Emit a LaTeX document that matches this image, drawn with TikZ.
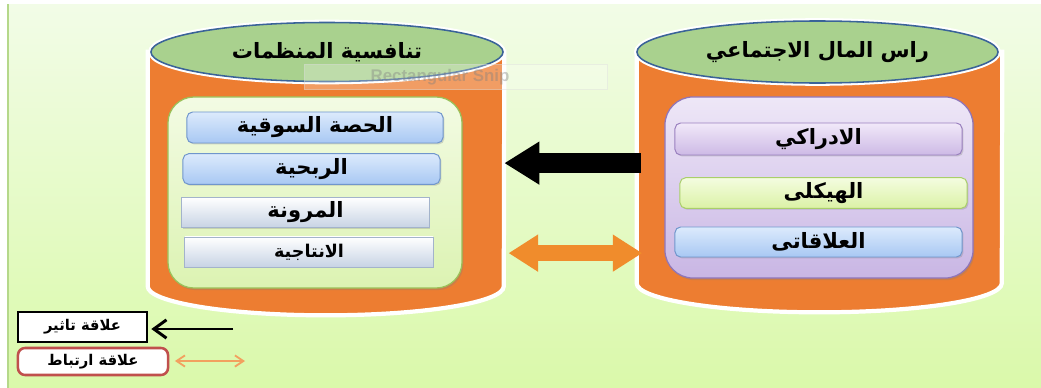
\documentclass[tikz,border=0pt]{standalone}
\usepackage{fontspec}
\newfontfamily\arabicfont[Script=Arabic]{DejaVu Sans}
\newfontfamily\snipfont{Liberation Sans}
\TeXXeTstate=1
\usetikzlibrary{arrows.meta,shapes.geometric,shadows}

\definecolor{bgtop}{HTML}{F2FCE7}
\definecolor{bgbot}{HTML}{DAF9AA}
\definecolor{bgline}{HTML}{B5D88A}
\definecolor{cylor}{HTML}{ED7D31}
\definecolor{cylshadow}{HTML}{C4A27A}
\definecolor{lidfill}{HTML}{A9D18E}
\definecolor{lidline}{HTML}{3A6398}
\definecolor{orgtop}{HTML}{F3FBE4}
\definecolor{orgbot}{HTML}{DCF3B2}
\definecolor{orgline}{HTML}{9BC15A}
\definecolor{captop}{HTML}{EEE7F7}
\definecolor{capbot}{HTML}{C9B6E4}
\definecolor{capline}{HTML}{8F75B9}
\definecolor{bluetop}{HTML}{DCEAFC}
\definecolor{bluebot}{HTML}{A8C8F3}
\definecolor{blueline}{HTML}{7096CC}
\definecolor{graybot}{HTML}{C7D3E4}
\definecolor{grayline}{HTML}{A3B3CB}
\definecolor{purtop}{HTML}{F1E9F9}
\definecolor{purbot}{HTML}{CDB9E5}
\definecolor{purline}{HTML}{9A80BF}
\definecolor{grntop}{HTML}{F4FCE0}
\definecolor{grnbot}{HTML}{DBF2A6}
\definecolor{grnline}{HTML}{A9CF69}
\definecolor{arrowor}{HTML}{F08C2C}
\definecolor{legred}{HTML}{C0504D}
\definecolor{legor}{HTML}{F2A15F}

\newcommand{\rtl}[1]{\beginR #1\endR}

\begin{document}
\begin{tikzpicture}[x=0.025cm, y=-0.025cm,
 cyl/.style={rectangle, draw=none, inner sep=0pt},
 lid/.style={ellipse, draw=lidline, line width=1.1pt, fill=lidfill, preaction={draw=white, line width=4pt}, inner sep=0pt, font=\arabicfont\bfseries\fontsize{15}{17}\selectfont},
 panel/.style={rectangle, rounded corners=0.65cm, line width=0.9pt, drop shadow={opacity=0.3, shadow xshift=1pt, shadow yshift=-1.5pt}},
 item/.style={rectangle, rounded corners=4pt, line width=0.7pt, minimum width=6.4cm, minimum height=0.75cm, font=\arabicfont\bfseries\fontsize{15}{17}\selectfont, drop shadow={opacity=0.3, shadow xshift=1pt, shadow yshift=-1pt}},
 flat/.style={item, rounded corners=0pt, draw=grayline, top color=white, bottom color=graybot},
 bigarr/.style={-{Triangle[length=25pt,width=29pt]}, line width=14pt, black},
 linkarr/.style={{Triangle[length=21pt,width=25pt]}-{Triangle[length=21pt,width=25pt]}, line width=11pt, arrowor},
 legbox/.style={rectangle, fill=white, inner sep=0pt, font=\arabicfont\bfseries\fontsize{10.5}{12}\selectfont},
]
\useasboundingbox (0,0) rectangle (1041,388);
\fill[white] (0,0) rectangle (1041,388);
\shade[top color=bgtop, bottom color=bgbot] (8,4) rectangle (1041,388);
\draw[bgline, line width=1.2pt] (8,4) -- (8,388);

% cylinders
\node[cyl, minimum width=8.9cm, minimum height=5.85cm] (orgcyl) at (326,169) {};
\node[cyl, minimum width=9.125cm, minimum height=5.775cm] (capcyl) at (819.5,167.5) {};
\foreach \c/\rx in {orgcyl/4.45cm, capcyl/4.5625cm} {
  \fill[cylshadow, xshift=1.5pt, yshift=-2pt] (\c.north west) -- (\c.south west) arc[start angle=180, end angle=360, x radius=\rx, y radius=0.725cm] -- (\c.north east) -- cycle;
  \draw[white, line width=3pt, fill=cylor] (\c.north west) -- (\c.south west) arc[start angle=180, end angle=360, x radius=\rx, y radius=0.725cm] -- (\c.north east) -- cycle;
}
\node[lid, minimum width=8.8cm, minimum height=1.475cm] (orgtitle) at (327,52) {\rtl{تنافسية المنظمات}};
\node[lid, minimum width=9.025cm, minimum height=1.55cm] (captitle) at (817.5,52) {\rtl{راس المال الاجتماعي}};

\node[rectangle, fill=white, fill opacity=0.25, draw=gray!30, draw opacity=0.4, minimum width=7.575cm, minimum height=0.5cm, text=gray, text opacity=0.4, font=\snipfont\bfseries\fontsize{12}{14}\selectfont] (snip) at (456,77) {Rectangular Snip\hspace*{0.8cm}\mbox{}};

% inner panels
\node[panel, draw=orgline, top color=orgtop, bottom color=orgbot, minimum width=7.35cm, minimum height=4.775cm] (orgpanel) at (315,192.5) {};
\node[panel, draw=capline, top color=captop, bottom color=capbot, rounded corners=0.7cm, minimum width=7.7cm, minimum height=4.525cm] (cappanel) at (819,187.5) {};

\node[item, draw=blueline, top color=bluetop, bottom color=bluebot, minimum height=0.775cm] (s1) at (315,127.5) {\rtl{الحصة السوقية}};
\node[item, draw=blueline, top color=bluetop, bottom color=bluebot, minimum width=6.425cm, minimum height=0.7cm] (s2) at (311.5,169) {\rtl{الربحية}};
\node[flat, minimum width=6.175cm, minimum height=0.725cm] (s3) at (305.5,212.5) {\rtl{المرونة}};
\node[flat, minimum width=6.2cm, font=\arabicfont\bfseries\fontsize{12.5}{14}\selectfont] (s4) at (309,252) {\rtl{الانتاجية}};

\node[item, draw=purline, top color=purtop, bottom color=purbot, minimum width=7.175cm, minimum height=0.8cm] (r1) at (818.5,139) {\rtl{الادراكي}};
\node[item, draw=grnline, top color=grntop, bottom color=grnbot, minimum width=7.175cm] (r2) at (823.5,193) {\rtl{الهيكلى}};
\node[item, draw=blueline, top color=bluetop, bottom color=bluebot, minimum width=7.175cm] (r3) at (818.5,242) {\rtl{العلاقاتى}};

% relations
\draw[bigarr] ([xshift=3pt, yshift=0.11cm]capcyl.west) -- ([yshift=0.11cm]capcyl.west -| orgcyl.east);
\draw[linkarr] ([xshift=4pt, yshift=-2.14cm]capcyl.west) -- ([xshift=3pt, yshift=-2.14cm]capcyl.west -| orgcyl.east);

% legend
\node[legbox, draw=black, line width=2.1pt, minimum width=3.225cm, minimum height=0.75cm] (effect) at (82.5,327) {\rtl{علاقة تاثير}};
\node[legbox, draw=legred, line width=1.8pt, rounded corners=5pt, minimum width=3.75cm, minimum height=0.675cm] (link) at (93,361.5) {\rtl{علاقة ارتباط}};
\coordinate (effectend) at (233,329);
\coordinate (linkend) at (245,361);
\draw[line width=2.1pt, -{Straight Barb[length=9pt,width=13pt]}] (effectend) -- ([xshift=2pt]effect.east |- effectend);
\draw[legor, line width=1.3pt, {Straight Barb[length=6pt,width=8pt]}-{Straight Barb[length=6pt,width=8pt]}] ([xshift=4pt]link.east |- linkend) -- (linkend);
\end{tikzpicture}
\end{document}
